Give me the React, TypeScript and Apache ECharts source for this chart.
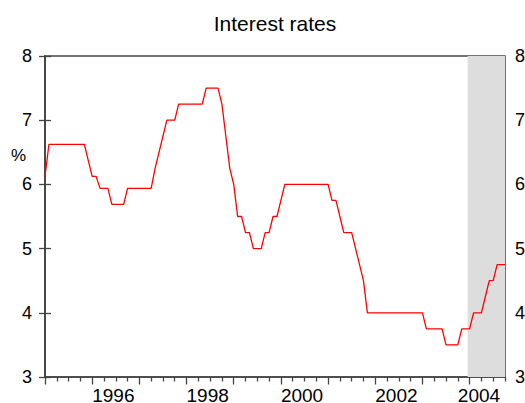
import React, { useEffect, useRef } from "react";
import * as echarts from "echarts";

// Monthly interest rate, 1995M01 .. 2004M10 (%)
const startYear = 1995;
const rates: number[] = [
  6.125,
  6.625, 6.625, 6.625, 6.625, 6.625, 6.625, 6.625, 6.625, 6.625, 6.625,
  6.375,
  6.125, 6.125,
  5.9375, 5.9375, 5.9375,
  5.6875, 5.6875, 5.6875, 5.6875,
  5.9375, 5.9375, 5.9375, 5.9375, 5.9375, 5.9375, 5.9375,
  6.25, 6.5, 6.75,
  7.0, 7.0, 7.0,
  7.25, 7.25, 7.25, 7.25, 7.25, 7.25, 7.25,
  7.5, 7.5, 7.5, 7.5,
  7.25, 6.75, 6.25, 6.0,
  5.5, 5.5,
  5.25, 5.25,
  5.0, 5.0, 5.0,
  5.25, 5.25,
  5.5, 5.5,
  5.75,
  6.0, 6.0, 6.0, 6.0, 6.0, 6.0, 6.0, 6.0, 6.0, 6.0, 6.0, 6.0,
  5.75, 5.75,
  5.5,
  5.25, 5.25, 5.25,
  5.0, 4.75, 4.5,
  4.0, 4.0, 4.0, 4.0, 4.0, 4.0, 4.0, 4.0, 4.0, 4.0, 4.0, 4.0, 4.0, 4.0, 4.0,
  3.75, 3.75, 3.75, 3.75, 3.75,
  3.5, 3.5, 3.5, 3.5,
  3.75, 3.75, 3.75,
  4.0, 4.0, 4.0,
  4.25,
  4.5, 4.5,
  4.75, 4.75, 4.75,
];
const yearLabels = ["1996", "1998", "2000", "2002", "2004"];
const yTicks = [3, 4, 5, 6, 7, 8];
const shadedYear = "2004";

const FONT = "'Liberation Sans', Arial, sans-serif";
const AXIS = "#444444";

export default function App() {
  const ref = useRef<HTMLDivElement>(null);

  useEffect(() => {
    if (!ref.current) return;
    const chart = echarts.init(ref.current, undefined, { renderer: "svg" });

    const lastIdx = rates.length - 1;
    const data = rates.map((v, i) => [i, v]);
    const majorTicks: number[] = [];
    const minorTicks: number[] = [];
    for (let i = 0; i <= lastIdx; i += 3) {
      if (i % 12 === 0) majorTicks.push(i);
      else minorTicks.push(i);
    }
    const labelMap = new Map<number, string>();
    const labelPos: number[] = [];
    yearLabels.forEach((y) => {
      let p = (Number(y) - startYear) * 12;
      if (p > lastIdx - 12) p = lastIdx - 12;
      labelPos.push(p);
      labelMap.set(p, y);
    });
    const shadeStart = (Number(shadedYear) - startYear) * 12 - 0.5;

    const option: any = {
      animation: false,
      grid: {
        left: 45,
        right: 20,
        top: 56,
        bottom: 26,
        outerBoundsMode: "none",
        containLabel: false,
        show: true,
        borderColor: AXIS,
        borderWidth: 1.5,
        backgroundColor: "transparent",
      },
      xAxis: [
        {
          type: "value",
          min: 0,
          max: lastIdx,
          position: "bottom",
          axisLine: { show: true, onZero: false, lineStyle: { color: AXIS, width: 1.5 } },
          axisTick: {
            show: true,
            customValues: majorTicks,
            length: 7.5,
            lineStyle: { color: AXIS, width: 1.3 },
          },
          axisLabel: {
            show: true,
            customValues: labelPos,
            formatter: (v: number) => labelMap.get(v) ?? "",
            align: "left",
            margin: 9,
            fontSize: 19,
            lineHeight: 19,
            color: "#000",
            fontFamily: FONT,
          },
          splitLine: { show: false },
        },
        {
          type: "value",
          min: 0,
          max: lastIdx,
          position: "bottom",
          axisLine: { show: false, onZero: false },
          axisTick: {
            show: true,
            customValues: minorTicks,
            length: 4.5,
            lineStyle: { color: AXIS, width: 1.3 },
          },
          axisLabel: { show: false },
          splitLine: { show: false },
        },
      ],
      yAxis: [
        {
          type: "value",
          min: yTicks[0],
          max: yTicks[yTicks.length - 1],
          interval: 1,
          position: "left",
          axisLine: { show: true, lineStyle: { color: AXIS, width: 1.5 } },
          axisTick: { show: true, length: 6, lineStyle: { color: AXIS, width: 1.3 } },
          axisLabel: { margin: 13, fontSize: 18, color: "#000", fontFamily: FONT },
          splitLine: { show: false },
        },
        {
          type: "value",
          min: yTicks[0],
          max: yTicks[yTicks.length - 1],
          interval: 1,
          position: "right",
          axisLine: { show: true, lineStyle: { color: AXIS, width: 1.5 } },
          axisTick: { show: true, length: 6, lineStyle: { color: AXIS, width: 1.3 } },
          axisLabel: { margin: 10, fontSize: 18, color: "#000", fontFamily: FONT },
          splitLine: { show: false },
        },
      ],
      series: [
        {
          type: "line",
          data,
          xAxisIndex: 0,
          yAxisIndex: 0,
          symbol: "none",
          lineStyle: { color: "#ff0000", width: 1.3 },
          markArea: {
            silent: true,
            itemStyle: { color: "#dddddd" },
            label: { show: false },
            data: [[{ xAxis: shadeStart }, { xAxis: lastIdx }]],
          },
        },
      ],
      graphic: [
        {
          type: "text",
          x: 275,
          y: 23,
          style: {
            text: "Interest rates",
            fontSize: 21,
            fontFamily: FONT,
            fill: "#000",
            align: "center",
            verticalAlign: "middle",
          },
        },
        {
          type: "text",
          x: 18.5,
          y: 155,
          style: {
            text: "%",
            fontSize: 17,
            fontFamily: FONT,
            fill: "#000",
            align: "center",
            verticalAlign: "middle",
          },
        },
        {
          type: "text",
          x: 485,
          y: 157,
          rotation: -Math.PI / 2,
          style: {
            text: shadedYear,
            fontSize: 14,
            fontFamily: FONT,
            fill: "#000",
            align: "center",
            verticalAlign: "middle",
          },
        },
      ],
    };

    chart.setOption(option);
    return () => chart.dispose();
  }, []);

  return (
    <div
      ref={ref}
      style={{ position: "absolute", left: 0, top: 0, width: 525, height: 403 }}
    />
  );
}
